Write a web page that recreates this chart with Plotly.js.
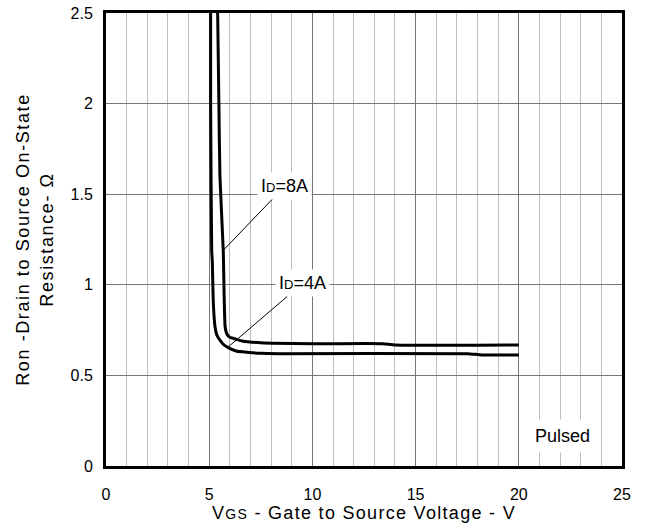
<!DOCTYPE html>
<html>
<head>
<meta charset="utf-8">
<script src="https://cdn.plot.ly/plotly-3.0.1.min.js"></script>
<style>
  html, body { margin: 0; padding: 0; background: #fff; }
  #chart { width: 647px; height: 528px; }
  /* the axis titles are set a little wider than the tick labels */
  #chart .xtitle { letter-spacing: 1.3px; }
  #chart .ytitle { letter-spacing: 1.6px; }
</style>
</head>
<body>
<div id="chart"></div>
<script>
// On-resistance vs gate-to-source voltage, pulsed measurement
const vgs8A = [5.41, 5.47, 5.52, 5.68, 5.77, 5.85, 6.0, 6.3, 6.6, 7.5, 10, 13.4, 14, 20];
const ron8A = [2.5, 2.0, 1.6, 1.19, 0.77, 0.73, 0.71, 0.70, 0.69, 0.68, 0.675, 0.675, 0.668, 0.668];

const vgs4A = [5.07, 5.07, 5.12, 5.15, 5.2, 5.28, 5.38, 5.52, 5.7, 5.9, 6.3, 6.6, 7.5, 8.4, 17.5, 18.2, 20];
const ron4A = [2.5, 2.0, 1.19, 1.13, 0.9, 0.77, 0.72, 0.695, 0.67, 0.655, 0.635, 0.63, 0.622, 0.62, 0.62, 0.613, 0.613];

const xTicks = [0, 5, 10, 15, 20, 25];
const yTicks = [0, 0.5, 1, 1.5, 2, 2.5];
const yTickText = ['0', '0.5', '1', '1.5', '2', '2.5'];

const fontFamily = 'Liberation Sans, Arial, sans-serif';

const lineStyle = { color: '#000', width: 3, shape: 'spline', smoothing: 0.5 };

const traces = [
  { x: vgs8A, y: ron8A, mode: 'lines', line: lineStyle, name: 'ID=8A', hoverinfo: 'skip' },
  { x: vgs4A, y: ron4A, mode: 'lines', line: lineStyle, name: 'ID=4A', hoverinfo: 'skip' }
];

const axisFrame = {
  showline: true, linecolor: '#000', linewidth: 3, mirror: true,
  zeroline: false, ticks: '', showgrid: true
};

const layout = {
  width: 647, height: 528,
  margin: { l: 106, r: 25, t: 13, b: 62 },
  paper_bgcolor: '#fff', plot_bgcolor: '#fff',
  showlegend: false,
  font: { family: fontFamily, size: 16, color: '#000' },
  xaxis: Object.assign({}, axisFrame, {
    range: [0, 25],
    tickvals: xTicks,
    tickfont: { size: 16 },
    ticklabelstandoff: 12,
    gridcolor: '#777', gridwidth: 1,
    minor: { dtick: 1, showgrid: true, gridcolor: '#bdbdbd', gridwidth: 1 },
    title: { text: 'V<span style="font-size:14px">GS</span> - Gate to Source Voltage - V', font: { size: 18 }, standoff: 2 }
  }),
  yaxis: Object.assign({}, axisFrame, {
    range: [0, 2.5],
    tickvals: yTicks, ticktext: yTickText,
    tickfont: { size: 16 },
    ticklabelstandoff: 7,
    gridcolor: '#777', gridwidth: 1,
    title: { text: 'Ron -Drain to Source On-State<br>Resistance- Ω', font: { size: 18 }, standoff: 13 }
  }),
  annotations: [
    {
      x: 5.68, y: 1.19, xref: 'x', yref: 'y',
      ax: 8.67, ay: 1.545, axref: 'x', ayref: 'y',
      text: 'I<span style="font-size:13px">D</span>=8A',
      showarrow: true, arrowhead: 0, arrowwidth: 1, arrowcolor: '#000',
      bgcolor: '#fff', borderpad: 3, font: { size: 18 }
    },
    {
      x: 5.9, y: 0.655, xref: 'x', yref: 'y',
      ax: 9.54, ay: 1.01, axref: 'x', ayref: 'y',
      text: 'I<span style="font-size:13px">D</span>=4A',
      showarrow: true, arrowhead: 0, arrowwidth: 1, arrowcolor: '#000',
      bgcolor: '#fff', borderpad: 3, font: { size: 18 }
    },
    {
      x: 22.14, y: 0.166, xref: 'x', yref: 'y',
      text: 'Pulsed', showarrow: false,
      bgcolor: '#fff', borderpad: 6, font: { size: 18 }
    }
  ]
};

Plotly.newPlot('chart', traces, layout, { staticPlot: true, displayModeBar: false });
</script>
</body>
</html>
